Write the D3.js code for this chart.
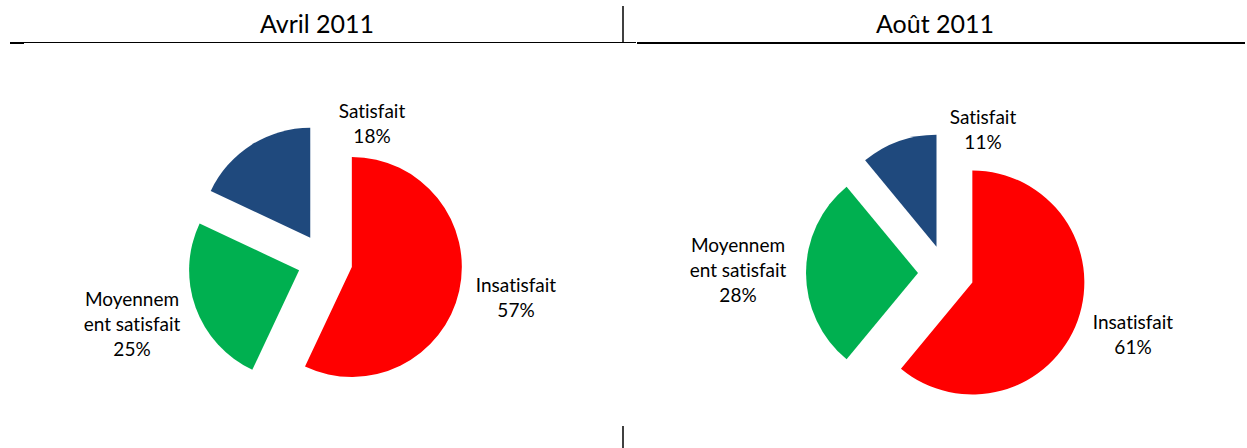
<!DOCTYPE html>
<html>
<head>
<meta charset="utf-8">
<script src="https://cdn.jsdelivr.net/npm/d3@7"></script>
<style>
  html, body { margin: 0; padding: 0; background: #fff; }
  svg { display: block; }
  text { font-family: Lato, "Open Sans", sans-serif; fill: #000; font-variant-ligatures: none; font-feature-settings: "liga" 0, "clig" 0; }
</style>
</head>
<body>
<svg id="chart" width="1247" height="448"></svg>
<script>
// ---- data ----
const categories = ["Insatisfait", "Moyennement satisfait", "Satisfait"];
const titles = ["Avril 2011", "Août 2011"];
const valuesAvril = [57, 25, 18];
const valuesAout = [61, 28, 11];
const colors = ["#FF0000", "#00B050", "#1F497D"];

// ---- layout ----
const W = 1247, H = 448;
const panels = [
  { title: titles[0], values: valuesAvril, cx: 325, cy: 261, r: 110, explode: 27.5, titleX: 317,
    labels: [[191, 31], [-193, 45], [47, -143]] },
  { title: titles[1], values: valuesAout, cx: 946, cy: 273, r: 112, explode: 28, titleX: 935,
    labels: [[187, 56], [-208, -21], [37, -149]] }
];
const lineH = 25;

const svg = d3.select("#chart");

// separator lines
svg.append("line").attr("x1", 10).attr("x2", 636).attr("y1", 42.5).attr("y2", 42.5)
  .attr("stroke", "#000").attr("stroke-width", 1);
svg.append("line").attr("x1", 10).attr("x2", 24).attr("y1", 43).attr("y2", 43)
  .attr("stroke", "#000").attr("stroke-width", 2);
svg.append("line").attr("x1", 637).attr("x2", 1245).attr("y1", 43).attr("y2", 43)
  .attr("stroke", "#000").attr("stroke-width", 2);
svg.append("line").attr("x1", 623).attr("x2", 623).attr("y1", 6).attr("y2", 42)
  .attr("stroke", "#000").attr("stroke-width", 1.5);
svg.append("line").attr("x1", 623).attr("x2", 623).attr("y1", 426).attr("y2", H)
  .attr("stroke", "#000").attr("stroke-width", 1.5);

const pie = d3.pie().sort(null).startAngle(0).endAngle(2 * Math.PI);

function wrapLabel(name) {
  // the original wraps the long category mid-word
  if (name.length > 12) return [name.slice(0, 8), name.slice(8)];
  return [name];
}

panels.forEach(p => {
  svg.append("text")
    .attr("x", p.titleX).attr("y", 33)
    .attr("text-anchor", "middle")
    .style("font-size", "25px")
    .text(p.title);

  const arc = d3.arc().innerRadius(0).outerRadius(p.r);
  const total = d3.sum(p.values);
  const arcs = pie(p.values);

  const g = svg.append("g").attr("transform", `translate(${p.cx},${p.cy})`);
  g.selectAll("path").data(arcs).join("path")
    .attr("d", arc)
    .attr("fill", (d, i) => colors[i])
    .attr("transform", d => {
      const mid = (d.startAngle + d.endAngle) / 2;
      return `translate(${Math.sin(mid) * p.explode},${-Math.cos(mid) * p.explode})`;
    });

  arcs.forEach((d, i) => {
    const lines = wrapLabel(categories[i]).concat([Math.round(d.value / total * 100) + "%"]);
    const [lx, ly] = p.labels[i];
    const t = g.append("text")
      .attr("text-anchor", "middle")
      .style("font-size", "19px");
    lines.forEach((ln, k) => {
      t.append("tspan").attr("x", lx).attr("y", ly + k * lineH).text(ln);
    });
  });
});
</script>
</body>
</html>
